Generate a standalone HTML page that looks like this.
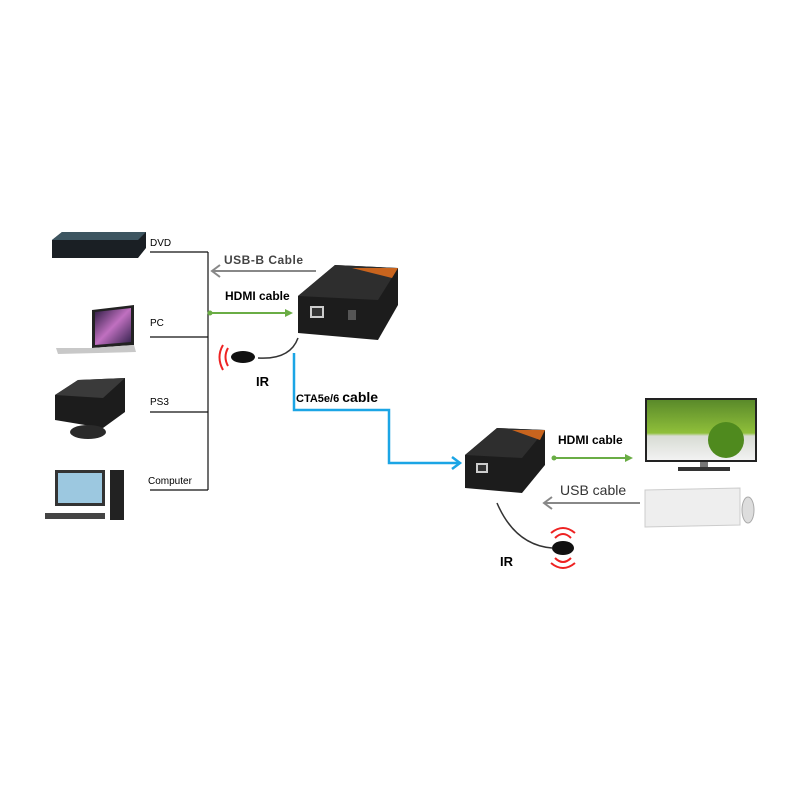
<!DOCTYPE html>
<html><head><meta charset="utf-8"><style>
body{margin:0;background:#fff;}
svg{display:block;font-family:"Liberation Sans",sans-serif;}
</style></head><body>
<svg width="800" height="800" viewBox="0 0 800 800">
<defs>
<linearGradient id="scr" x1="0" y1="0" x2="0" y2="1"><stop offset="0" stop-color="#5a8a2a"/><stop offset="0.55" stop-color="#8fbf3a"/><stop offset="0.6" stop-color="#d8dcd4"/><stop offset="1" stop-color="#f2f2f2"/></linearGradient>
<linearGradient id="lap" x1="0" y1="0" x2="1" y2="1"><stop offset="0" stop-color="#2a1a40"/><stop offset="0.5" stop-color="#c070c0"/><stop offset="1" stop-color="#30204a"/></linearGradient>
</defs>
<!-- DVD -->
<polygon points="52,240 62,232 146,232 146,248 138,258 52,258" fill="#1a1f24"/>
<polygon points="52,240 62,232 146,232 138,240" fill="#3d5560"/>
<text x="150" y="246" font-size="10">DVD</text>
<!-- Laptop -->
<polygon points="92,310 134,305 134,345 92,348" fill="#222"/>
<polygon points="95,312 131,308 131,342 95,345" fill="url(#lap)"/>
<polygon points="56,348 92,348 134,345 136,352 58,354" fill="#c8c8c8"/>
<text x="150" y="326" font-size="10">PC</text>
<!-- PS3 -->
<polygon points="55,395 78,380 125,378 125,412 103,428 55,420" fill="#1c1c1c"/>
<polygon points="55,395 78,380 125,378 103,398" fill="#3a3a3a"/>
<ellipse cx="88" cy="432" rx="18" ry="7" fill="#2a2a2a"/>
<text x="150" y="405" font-size="10">PS3</text>
<!-- Computer -->
<rect x="55" y="470" width="50" height="36" fill="#333"/>
<rect x="58" y="473" width="44" height="30" fill="#9cc8e0"/>
<rect x="110" y="470" width="14" height="50" fill="#222"/>
<rect x="45" y="513" width="60" height="6" fill="#444"/>
<text x="148" y="484" font-size="10">Computer</text>
<!-- tree -->
<g stroke="#111" stroke-width="1.2" fill="none">
<line x1="150" y1="252" x2="208" y2="252"/>
<line x1="150" y1="337" x2="208" y2="337"/>
<line x1="150" y1="412" x2="208" y2="412"/>
<line x1="150" y1="490" x2="208" y2="490"/>
<line x1="208" y1="252" x2="208" y2="490"/>
</g>
<!-- USB-B -->
<line x1="316" y1="271" x2="212" y2="271" stroke="#888" stroke-width="2"/>
<polyline points="220,265 212,271 220,277" fill="none" stroke="#888" stroke-width="2"/>
<text x="224" y="264" font-size="12" font-weight="bold" fill="#444" letter-spacing="0.5">USB-B Cable</text>
<!-- HDMI 1 -->
<line x1="209" y1="313" x2="290" y2="313" stroke="#6aad45" stroke-width="2"/>
<circle cx="210" cy="313" r="2.5" fill="#6aad45"/>
<polygon points="293,313 285,309 285,317" fill="#6aad45"/>
<text x="225" y="300" font-size="12" font-weight="bold">HDMI cable</text>
<!-- extender 1 -->
<polygon points="298,296 335,265 398,268 398,305 378,340 298,333" fill="#1c1c1c"/>
<polygon points="298,296 335,265 398,268 378,300" fill="#2e2e2e"/>
<polygon points="352,268 398,268 392,278" fill="#c8641e"/>
<rect x="310" y="306" width="14" height="12" fill="#ccc"/>
<rect x="312" y="308" width="10" height="8" fill="#333"/>
<rect x="348" y="310" width="8" height="10" fill="#555"/>
<!-- IR 1 -->
<path d="M298,338 Q290,360 258,358" fill="none" stroke="#333" stroke-width="1.5"/>
<ellipse cx="243" cy="357" rx="12" ry="6" fill="#111"/>
<path d="M228,348 Q223,357 228,366" fill="none" stroke="#e22" stroke-width="2"/>
<path d="M223,345 Q216,357 223,370" fill="none" stroke="#e22" stroke-width="2"/>
<text x="256" y="386" font-size="13" font-weight="bold">IR</text>
<!-- blue cable -->
<polyline points="294,353 294,410 389,410 389,463 460,463" fill="none" stroke="#1ba5e5" stroke-width="2.5"/>
<polyline points="452,457 460,463 452,469" fill="none" stroke="#1ba5e5" stroke-width="2.5"/>
<text x="296" y="402" font-size="11" font-weight="bold">CTA5e/6 <tspan font-size="14">cable</tspan></text>
<!-- extender 2 -->
<polygon points="465,455 497,428 545,430 545,465 522,493 465,488" fill="#1c1c1c"/>
<polygon points="465,455 497,428 545,430 522,458" fill="#2e2e2e"/>
<polygon points="512,430 545,430 540,440" fill="#c8641e"/>
<rect x="476" y="463" width="12" height="10" fill="#ccc"/>
<rect x="478" y="465" width="8" height="6" fill="#333"/>
<!-- HDMI 2 -->
<line x1="553" y1="458" x2="628" y2="458" stroke="#6aad45" stroke-width="2"/>
<circle cx="554" cy="458" r="2.5" fill="#6aad45"/>
<polygon points="633,458 625,454 625,462" fill="#6aad45"/>
<text x="558" y="444" font-size="12" font-weight="bold">HDMI cable</text>
<!-- TV -->
<rect x="645" y="398" width="112" height="64" fill="#222"/>
<rect x="647" y="400" width="108" height="60" fill="url(#scr)"/>
<circle cx="726" cy="440" r="18" fill="#4f8a1e"/>
<rect x="700" y="462" width="8" height="6" fill="#777"/>
<rect x="678" y="467" width="52" height="4" fill="#333"/>
<!-- USB -->
<line x1="640" y1="503" x2="544" y2="503" stroke="#888" stroke-width="2"/>
<polyline points="552,497 544,503 552,509" fill="none" stroke="#888" stroke-width="2"/>
<text x="560" y="495" font-size="14" fill="#333">USB cable</text>
<!-- keyboard -->
<polygon points="645,490 740,488 740,525 645,527" fill="#eee" stroke="#ccc"/>
<ellipse cx="748" cy="510" rx="6" ry="13" fill="#ddd" stroke="#aaa"/>
<!-- IR 2 -->
<path d="M497,503 Q515,545 552,548" fill="none" stroke="#333" stroke-width="1.5"/>
<ellipse cx="563" cy="548" rx="11" ry="7" fill="#111"/>
<path d="M555,538 Q563,530 571,538" fill="none" stroke="#e22" stroke-width="2"/>
<path d="M551,533 Q563,523 575,533" fill="none" stroke="#e22" stroke-width="2"/>
<path d="M555,558 Q563,566 571,558" fill="none" stroke="#e22" stroke-width="2"/>
<path d="M551,563 Q563,573 575,563" fill="none" stroke="#e22" stroke-width="2"/>
<text x="500" y="566" font-size="13" font-weight="bold">IR</text>
</svg>
</body></html>
